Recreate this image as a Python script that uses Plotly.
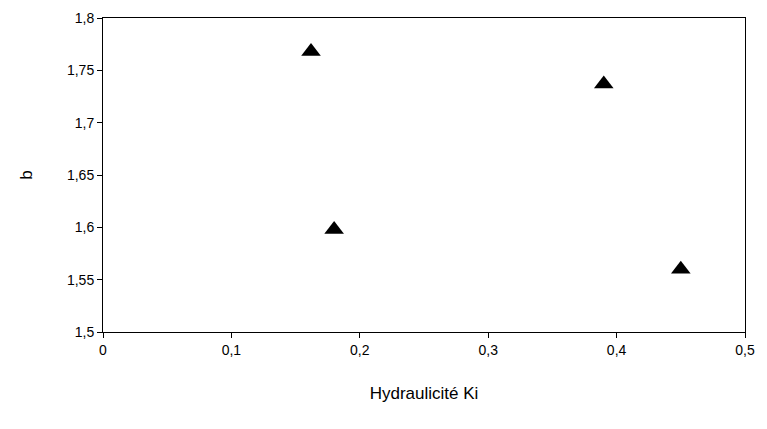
import plotly.graph_objects as go

ki = [0.162, 0.18, 0.39, 0.45]
b = [1.768, 1.598, 1.737, 1.56]

x_ticks = [0, 0.1, 0.2, 0.3, 0.4, 0.5]
y_ticks = [1.5, 1.55, 1.6, 1.65, 1.7, 1.75, 1.8]

fig = go.Figure(go.Scatter(
    x=ki, y=b, mode="markers",
    marker=dict(symbol="triangle-up", size=17, color="black"),
))

font = dict(family="Liberation Sans Narrow, Arial Narrow, sans-serif", size=14, color="black")

fig.update_layout(
    width=767, height=429,
    margin=dict(l=95, r=30, t=10, b=105),
    plot_bgcolor="white", paper_bgcolor="white",
    showlegend=False,
    font=font,
)
fig.update_xaxes(
    range=[0, 0.5], tickvals=x_ticks, ticktext=[f"{v:g}".replace(".", ",") for v in x_ticks],
    showgrid=False, zeroline=False, showline=True, linecolor="black", linewidth=1,
    mirror=True, ticks="outside", ticklen=5, tickcolor="black", automargin=False,
    title=dict(text="Hydraulicité Ki", standoff=30),
)
fig.update_yaxes(
    range=[1.5, 1.8], tickvals=y_ticks, ticktext=[f"{v:g}".replace(".", ",") for v in y_ticks],
    showgrid=False, zeroline=False, showline=True, linecolor="black", linewidth=1,
    mirror=True, ticks="outside", ticklen=5, tickcolor="black", automargin=False,
    title=dict(text="b", standoff=30),
)

fig.write_html("out.html")
